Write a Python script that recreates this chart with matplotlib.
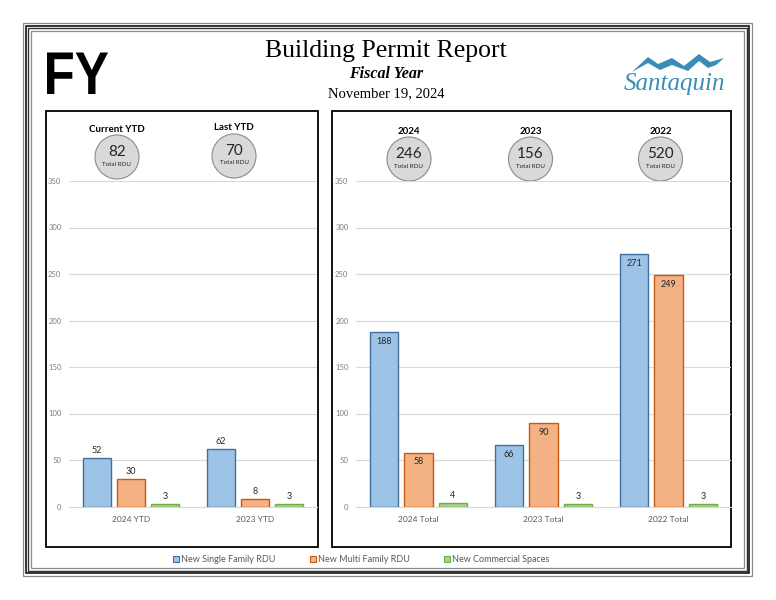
import matplotlib
matplotlib.use('Agg')
from matplotlib import pyplot as plt
from matplotlib.patches import Rectangle, Circle, Polygon, Patch, PathPatch
from matplotlib.textpath import TextPath
from matplotlib.font_manager import FontProperties
from matplotlib.transforms import Affine2D
import numpy as np

plt.rcParams['font.family'] = ['Lato', 'DejaVu Sans']

# data
series = ['New Single Family RDU', 'New Multi Family RDU', 'New Commercial Spaces']
ytd_cats = ['2024 YTD', '2023 YTD']
ytd_single = [52, 62]
ytd_multi = [30, 8]
ytd_comm = [3, 3]
ytd_heads = ['Current YTD', 'Last YTD']

tot_cats = ['2024 Total', '2023 Total', '2022 Total']
tot_single = [188, 66, 271]
tot_multi = [58, 90, 249]
tot_comm = [4, 3, 3]
tot_heads = ['2024', '2023', '2022']

fills = ['#9dc3e6', '#f4b183', '#a9d18e']
edges = ['#41719c', '#c55a11', '#70ad47']

W, H = 776, 600
fig = plt.figure(figsize=(W / 100, H / 100), dpi=100)

# pixel overlay for frame, titles, bubbles
ov = fig.add_axes([0, 0, 1, 1])
ov.set_xlim(0, W)
ov.set_ylim(H, 0)
ov.axis('off')

# page frame (several thin lines)
for off, col, lw in [(0, '#8c8c8c', 0.9), (2.7, '#000000', 1.1), (5.3, '#303030', 1.0), (8, '#8c8c8c', 0.9)]:
    ov.add_patch(Rectangle((23 + off, 23 + off), 729 - 2 * off, 553 - 2 * off,
                           fill=False, ec=col, lw=lw))

# panel boxes
ov.add_patch(Rectangle((46, 111), 272, 436, fill=False, ec='black', lw=1.3))
ov.add_patch(Rectangle((332, 111), 399, 436, fill=False, ec='black', lw=1.3))

# big condensed "FY"
tp = TextPath((0, 0), 'FY', size=1, prop=FontProperties(family='Liberation Sans', weight='bold'))
ext = tp.get_extents()
tr = Affine2D().translate(-ext.x0, 0).scale(61 / ext.width, -41.5 / ext.y1).translate(47, 94)
ov.add_patch(PathPatch(tr.transform_path(tp), fc='black', ec='none'))

# titles
ov.text(386, 51, 'Building Permit Report', fontsize=18.5, ha='center', va='center',
        family='Liberation Serif')
ov.text(386, 74, 'Fiscal Year', fontsize=11.5, ha='center', va='center',
        family='Liberation Serif', fontweight='bold', style='italic')
ov.text(386, 94, 'November 19, 2024', fontsize=10.5, ha='center', va='center',
        family='Liberation Serif')

# logo
logo = '#3a8db5'
ov.add_patch(Polygon([(632, 72), (648, 57), (658, 64), (672, 58), (684, 66), (699, 54),
                      (710, 62), (724, 58), (716, 65), (708, 68), (699, 61), (688, 71),
                      (672, 65), (660, 70), (648, 63)], closed=True, fc=logo, ec='none'))
ov.text(674, 84, 'Santaquin', fontsize=18, ha='center', va='center', color=logo,
        family='Liberation Serif', style='italic')

# bubbles
def bubble(x, y, head, val):
    ov.add_patch(Circle((x, y), 22, fc='#d9d9d9', ec='#8c8c8c', lw=0.8))
    ov.text(x, y - 28, head, fontsize=7, fontweight='bold', ha='center', va='center')
    ov.text(x, y - 5, str(val), fontsize=11, ha='center', va='center', color='#262626')
    ov.text(x, y + 7, 'Total RDU', fontsize=4.5, ha='center', va='center', color='#262626')

ytd_tot = [s + m for s, m in zip(ytd_single, ytd_multi)]
tot_tot = [s + m for s, m in zip(tot_single, tot_multi)]
for x, y, h, v in zip([117, 234], [157, 156], ytd_heads, ytd_tot):
    bubble(x, y, h, v)
for x, h, v in zip([409, 530.5, 660.5], tot_heads, tot_tot):
    bubble(x, 159, h, v)


def panel(rect, cats, vals, inside):
    ax = fig.add_axes(rect)
    ax.set_facecolor('none')
    x = np.arange(len(cats))
    bw, step = 0.225, 0.276
    for i, v in enumerate(vals):
        b = ax.bar(x + (i - 1) * step, v, bw, color=fills[i], edgecolor=edges[i], lw=1.0, zorder=3)
        if inside and i < 2:
            ax.bar_label(b, padding=-10, fontsize=6.5, color='#262626')
        else:
            ax.bar_label(b, padding=2, fontsize=6.5, color='#262626')
    ax.set_xlim(-0.5, len(cats) - 0.5)
    ax.set_ylim(0, 350)
    ax.set_yticks(range(0, 351, 50))
    ax.set_xticks(x)
    ax.set_xticklabels(cats)
    ax.grid(axis='y', color='#d9d9d9', lw=0.8, zorder=0)
    for s in ['top', 'right', 'left']:
        ax.spines[s].set_visible(False)
    ax.spines['bottom'].set_color('#d9d9d9')
    ax.tick_params(axis='both', length=0, labelsize=5.5, colors='#7f7f7f')
    ax.tick_params(axis='x', labelsize=6, pad=7, labelcolor='#595959')
    ax.tick_params(axis='y', pad=5.5)
    return ax

panel([69 / W, 1 - 506.5 / H, 248 / W, 325.5 / H], ytd_cats,
      [ytd_single, ytd_multi, ytd_comm], False)
panel([356 / W, 1 - 506.5 / H, 375 / W, 325.5 / H], tot_cats,
      [tot_single, tot_multi, tot_comm], True)

handles = [Patch(fc=fills[i], ec=edges[i], lw=0.8) for i in range(3)]
fig.legend(handles, series, loc='center', bbox_to_anchor=(361 / W, 1 - 559.5 / H), ncol=3,
           frameon=False, fontsize=6.5, labelcolor='#595959', handlelength=0.7,
           handleheight=0.7, handletextpad=0.2, columnspacing=3.8)

fig.savefig('out.png', dpi=100)
